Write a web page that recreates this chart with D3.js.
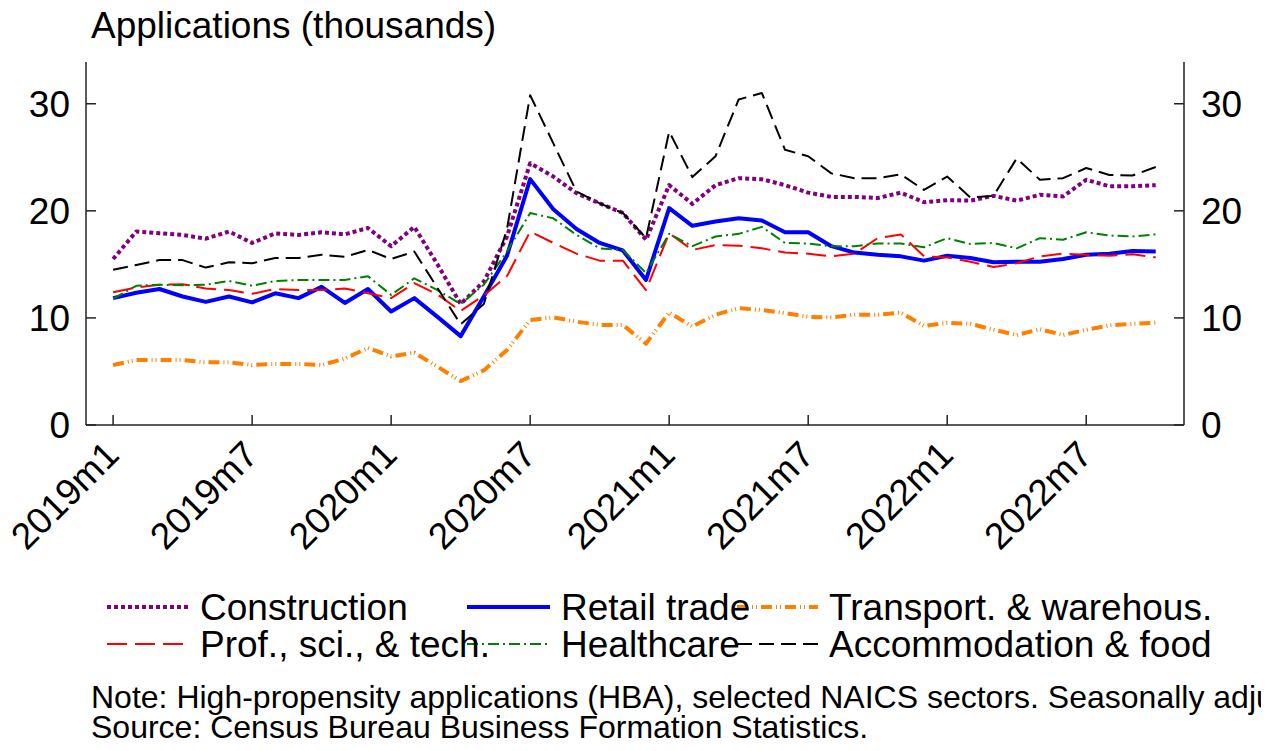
<!DOCTYPE html>
<html>
<head>
<meta charset="utf-8">
<script src="https://cdn.jsdelivr.net/npm/d3@7"></script>
<style>
  body { margin: 0; background: #fff; }
  svg { display: block; font-family: "Liberation Sans", Arial, sans-serif; }
</style>
</head>
<body>
<div id="chart"></div>
<script>
// monthly, 2019m1 .. 2022m10
const months = d3.range(46);
const tickMonths = [0, 6, 12, 18, 24, 30, 36, 42];
const tickLabels = ["2019m1", "2019m7", "2020m1", "2020m7", "2021m1", "2021m7", "2022m1", "2022m7"];
const yTicks = [0, 10, 20, 30];

const construction = [15.5, 18.07, 17.9, 17.75, 17.4, 18.07, 17.0, 17.9, 17.75, 18.0, 17.8, 18.4,
  16.7, 18.5, 15.0, 11.3, 13.4, 17.6, 24.45, 23.2, 21.65, 20.7, 19.8, 17.3,
  22.4, 20.65, 22.4, 23.05, 22.95, 22.4, 21.7, 21.3, 21.3, 21.2, 21.7, 20.8,
  21.0, 20.95, 21.4, 20.95, 21.5, 21.35, 22.9, 22.3, 22.3, 22.4];
const retail = [11.85, 12.35, 12.7, 12.0, 11.5, 12.0, 11.45, 12.3, 11.85, 12.9, 11.4, 12.7,
  10.6, 11.85, 10.1, 8.3, 12.0, 15.8, 22.96, 20.15, 18.3, 17.0, 16.3, 13.55,
  20.25, 18.6, 19.0, 19.3, 19.1, 18.0, 18.0, 16.7, 16.1, 15.9, 15.75, 15.35,
  15.8, 15.6, 15.2, 15.25, 15.25, 15.5, 15.9, 16.0, 16.25, 16.2];
const transport = [5.6, 6.07, 6.07, 6.07, 5.85, 5.85, 5.6, 5.7, 5.7, 5.6, 6.2, 7.2,
  6.4, 6.75, 5.45, 4.1, 5.1, 7.0, 9.8, 10.05, 9.65, 9.35, 9.35, 7.6,
  10.5, 9.2, 10.3, 10.9, 10.75, 10.45, 10.1, 10.05, 10.3, 10.3, 10.5, 9.25,
  9.55, 9.45, 8.9, 8.4, 8.95, 8.4, 8.9, 9.3, 9.45, 9.55];
const profSciTech = [12.4, 12.85, 13.1, 13.15, 12.75, 12.6, 12.25, 12.7, 12.6, 12.6, 12.75, 12.3,
  11.85, 13.25, 12.2, 10.65, 12.1, 13.9, 18.07, 17.0, 16.0, 15.35, 15.35, 12.6,
  17.9, 16.35, 16.8, 16.75, 16.5, 16.1, 16.0, 15.75, 16.0, 17.45, 17.8, 15.75,
  15.65, 15.25, 14.75, 15.1, 15.75, 16.0, 15.9, 15.8, 15.95, 15.65];
const healthcare = [11.8, 13.0, 13.1, 13.05, 13.1, 13.45, 13.0, 13.45, 13.55, 13.55, 13.55, 13.9,
  12.15, 13.7, 12.6, 11.3, 13.1, 16.2, 19.8, 19.3, 17.75, 16.5, 16.35, 14.2,
  17.85, 16.7, 17.6, 17.85, 18.5, 17.0, 16.95, 16.7, 16.7, 16.95, 16.95, 16.6,
  17.45, 16.9, 17.0, 16.5, 17.45, 17.3, 18.0, 17.7, 17.6, 17.8];
const accommodation = [14.5, 14.95, 15.4, 15.4, 14.7, 15.2, 15.1, 15.6, 15.6, 15.9, 15.7, 16.35,
  15.5, 16.2, 12.8, 9.4, 11.3, 18.3, 30.8, 26.3, 21.8, 20.7, 19.8, 17.45,
  27.4, 23.15, 25.1, 30.4, 31.0, 25.7, 25.1, 23.5, 23.05, 23.05, 23.4, 21.95,
  23.2, 21.25, 21.4, 24.9, 22.9, 23.05, 24.0, 23.35, 23.3, 24.1];

const seriesNames = ["Construction", "Retail trade", "Transport. & warehous.",
  "Prof., sci., & tech.", "Healthcare", "Accommodation & food"];
const seriesValues = [construction, retail, transport, profSciTech, healthcare, accommodation];

// line styles, same order as the names
const styles = [
  { color: "#800080", width: 4, dash: "4,3" },
  { color: "#0000ff", width: 4, dash: null },
  { color: "#ff8000", width: 4, dash: "11,4,1,3,1,4" },
  { color: "#ff0000", width: 2, dash: "20,8" },
  { color: "#008000", width: 2, dash: "11,4,2,4" },
  { color: "#000000", width: 2, dash: "15,7" },
];

const width = 1270;
const height = 751;
const margin = { left: 86, right: 1184, top: 62, bottom: 425 };
const fontSize = 37;

const svg = d3.select("#chart").append("svg")
  .attr("width", width)
  .attr("height", height);

const x = d3.scaleLinear().domain([-1.17, 46.22]).range([margin.left, margin.right]);
const y = d3.scaleLinear().domain([0, 33.9]).range([margin.bottom, margin.top]);

// title
svg.append("text")
  .attr("x", 91)
  .attr("y", 38)
  .attr("font-size", fontSize)
  .text("Applications (thousands)");

// axes: left, right, bottom (ticks point inward)
const axisColor = "#222";
svg.append("line")
  .attr("x1", margin.left).attr("x2", margin.left)
  .attr("y1", margin.top).attr("y2", margin.bottom)
  .attr("stroke", axisColor).attr("stroke-width", 1.5);
svg.append("line")
  .attr("x1", margin.right).attr("x2", margin.right)
  .attr("y1", margin.top).attr("y2", margin.bottom)
  .attr("stroke", axisColor).attr("stroke-width", 1.5);
svg.append("line")
  .attr("x1", margin.left).attr("x2", margin.right)
  .attr("y1", margin.bottom).attr("y2", margin.bottom)
  .attr("stroke", axisColor).attr("stroke-width", 1.5);

const yg = svg.append("g");
yTicks.forEach((t) => {
  yg.append("line")
    .attr("x1", margin.left).attr("x2", margin.left + 10)
    .attr("y1", y(t)).attr("y2", y(t))
    .attr("stroke", axisColor).attr("stroke-width", 1.5);
  yg.append("line")
    .attr("x1", margin.right - 10).attr("x2", margin.right)
    .attr("y1", y(t)).attr("y2", y(t))
    .attr("stroke", axisColor).attr("stroke-width", 1.5);
  yg.append("text")
    .attr("x", 70).attr("y", y(t))
    .attr("dy", "0.35em")
    .attr("text-anchor", "end")
    .attr("font-size", fontSize)
    .text(t);
  yg.append("text")
    .attr("x", 1201).attr("y", y(t))
    .attr("dy", "0.35em")
    .attr("font-size", fontSize)
    .text(t);
});

const xg = svg.append("g");
tickMonths.forEach((m, i) => {
  xg.append("line")
    .attr("x1", x(m)).attr("x2", x(m))
    .attr("y1", margin.bottom).attr("y2", margin.bottom - 10)
    .attr("stroke", axisColor).attr("stroke-width", 1.5);
  xg.append("text")
    .attr("transform", `translate(${x(m) + 8},${margin.bottom + 32}) rotate(-45)`)
    .attr("text-anchor", "end")
    .attr("font-size", fontSize)
    .text(tickLabels[i]);
});

// the six lines
const line = d3.line()
  .x((d, i) => x(months[i]))
  .y((d) => y(d));

seriesValues.forEach((vals, k) => {
  svg.append("path")
    .datum(vals)
    .attr("d", line)
    .attr("fill", "none")
    .attr("stroke", styles[k].color)
    .attr("stroke-width", styles[k].width)
    .attr("stroke-dasharray", styles[k].dash)
    .attr("stroke-linejoin", "round");
});

// legend, 3 columns x 2 rows
const legendCols = [{ x0: 107, x1: 190, tx: 200 }, { x0: 467, x1: 550, tx: 561 }, { x0: 737, x1: 818, tx: 829 }];
const legendRows = [607, 644];
const legend = svg.append("g");
seriesNames.forEach((name, k) => {
  const c = legendCols[k % 3];
  const r = legendRows[Math.floor(k / 3)];
  legend.append("line")
    .attr("x1", c.x0).attr("x2", c.x1)
    .attr("y1", r).attr("y2", r)
    .attr("stroke", styles[k].color)
    .attr("stroke-width", styles[k].width)
    .attr("stroke-dasharray", styles[k].dash);
});
seriesNames.forEach((name, k) => {
  const c = legendCols[k % 3];
  const r = legendRows[Math.floor(k / 3)];
  legend.append("text")
    .attr("x", c.tx).attr("y", r)
    .attr("dy", "0.36em")
    .attr("font-size", fontSize)
    .text(name);
});

// notes (clipped at the right edge like the original)
svg.append("clipPath").attr("id", "noteclip")
  .append("rect").attr("x", 0).attr("y", 660).attr("width", 1261).attr("height", 91);
const notes = svg.append("g").attr("clip-path", "url(#noteclip)");
notes.append("text")
  .attr("x", 91).attr("y", 708)
  .attr("font-size", 32)
  .text("Note: High-propensity applications (HBA), selected NAICS sectors. Seasonally adjusted.");
notes.append("text")
  .attr("x", 91).attr("y", 738)
  .attr("font-size", 32)
  .text("Source: Census Bureau Business Formation Statistics.");
</script>
</body>
</html>
